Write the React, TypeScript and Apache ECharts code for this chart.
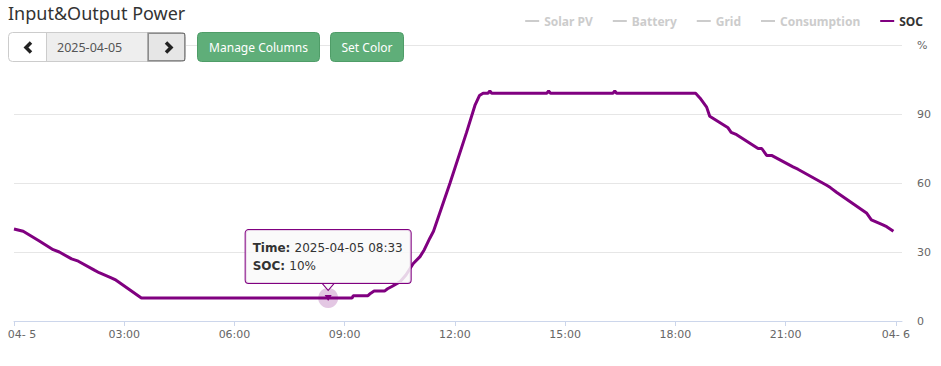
import { useEffect, useRef } from 'react';
import * as echarts from 'echarts';

// ---- data ----
const DATE = '2025-04-05';
const NEXT_DATE = '2025-04-06';
const TITLE = 'Input&Output Power';
const LEGEND_NAMES = ['Solar PV', 'Battery', 'Grid', 'Consumption', 'SOC'];
const LEGEND_COLORS = ['#f7a35c', '#7cb5ec', '#90ed7d', '#434348', '#800080'];
const BUTTON_LABELS = ['Manage Columns', 'Set Color'];
const X_TICK_HOURS = [0, 3, 6, 9, 12, 15, 18, 21, 24];
const Y_TICKS = [0, 30, 60, 90, 120];
const Y_UNIT = '%';
const TOOLTIP_TIME = '08:33';

const TIMES = [
  '00:00', '00:15', '00:40', '01:04', '01:14', '01:34', '01:45', '02:12', '02:19', '02:37',
  '02:45', '03:28', '08:33', '09:12', '09:14', '09:38', '09:42', '09:48', '10:05', '10:10',
  '10:17', '10:30', '10:40', '10:52', '11:03', '11:10', '11:19', '11:25', '11:52', '12:19',
  '12:33', '12:40', '12:46', '12:54', '12:57', '13:00', '14:30', '14:33', '14:36', '16:18',
  '16:21', '16:24', '18:33', '18:40', '18:51', '18:56', '19:26', '19:31', '19:40', '20:15',
  '20:21', '20:29', '20:37', '21:12', '21:20', '22:07', '22:13', '22:23', '23:12', '23:20',
  '23:37', '23:45', '23:56',
];
const SOC = [
  40, 39, 35, 31, 30, 27, 26, 22, 21, 19,
  18, 10, 10, 10, 11, 11, 12, 13, 13, 14,
  15, 17, 20, 25, 28, 31, 36, 39, 60, 82,
  94, 98, 99, 99, 100, 99, 99, 100, 99, 99,
  100, 99, 99, 97, 93, 89, 84, 82, 81, 75,
  75, 72, 72, 67, 66, 59, 58, 56, 47, 44,
  42, 41, 39,
];

const FONT = 'Noto Sans';
const FONT_V = 'DejaVu Sans';
const PURPLE = '#800080';

const toMin = (t: string) => {
  const [h, m] = t.split(':').map(Number);
  return h * 60 + m;
};

const dayLabel = (d: string) => {
  const [, m, day] = d.split('-');
  return `${m}-${String(Number(day)).padStart(2, ' ')}`;
};

export default function App() {
  const ref = useRef<HTMLDivElement>(null);

  useEffect(() => {
    if (!ref.current) return;
    const chart = echarts.init(ref.current, undefined, { renderer: 'svg' });

    const socData = TIMES.map((t, i) => [toMin(t), SOC[i]]);
    const ti = TIMES.indexOf(TOOLTIP_TIME);
    const tipCoord = [toMin(TIMES[ti]), SOC[ti]];
    const tickMins = X_TICK_HOURS.map((h) => h * 60);

    const xFormatter = (v: number) => {
      const h = v / 60;
      if (h % 24 === 0) {
        const s = dayLabel(h === 0 ? DATE : NEXT_DATE);
        return h === 0 ? `{first|${s}}` : s;
      }
      return `${String(h).padStart(2, '0')}:00`;
    };

    const btn = (x: number, w: number, label: string) => [
      {
        type: 'rect',
        z: 100,
        shape: { x: x + 0.5, y: 32.5, width: w, height: 29, r: 4 },
        style: { fill: '#5fae79', stroke: '#4f9d68', lineWidth: 1 },
      },
      {
        type: 'text',
        z: 100,
        style: {
          x: x + 0.5 + w / 2, y: 47, text: label, fill: '#fff',
          font: `12px "${FONT}"`, align: 'center', verticalAlign: 'middle',
        },
      },
    ];

    chart.setOption({
      animation: false,
      backgroundColor: '#fff',
      title: {
        text: TITLE,
        left: 8,
        top: 4,
        padding: 0,
        textStyle: { fontFamily: FONT, fontSize: 18, fontWeight: 'normal', color: '#333' },
      },
      legend: {
        data: LEGEND_NAMES,
        right: 18,
        top: 15,
        padding: 0,
        icon: 'rect',
        itemWidth: 14,
        itemHeight: 2,
        itemGap: 20,
        inactiveColor: '#ccc',
        selected: Object.fromEntries(LEGEND_NAMES.map((n) => [n, n === 'SOC'])),
        textStyle: { fontFamily: FONT, fontSize: 12, fontWeight: 'bold', color: '#333' },
      },
      grid: { left: 14, right: 39, top: 45, bottom: 45 },
      xAxis: {
        type: 'value',
        min: 0,
        max: 1450,
        axisLine: { show: true, lineStyle: { color: '#ccd6eb', width: 1 } },
        axisTick: { show: true, length: 5, lineStyle: { color: '#ccd6eb' }, customValues: tickMins },
        splitLine: { show: false },
        axisLabel: {
          customValues: tickMins,
          formatter: xFormatter,
          color: '#666',
          fontFamily: FONT_V,
          fontSize: 11,
          margin: 8,
          rich: {
            first: { fontFamily: FONT_V, fontSize: 11, color: '#666', padding: [0, 0, 0, 16] },
          },
        },
      },
      yAxis: {
        type: 'value',
        position: 'right',
        min: Y_TICKS[0],
        max: Y_TICKS[Y_TICKS.length - 1],
        interval: Y_TICKS[1] - Y_TICKS[0],
        axisLine: { show: false },
        axisTick: { show: false },
        splitLine: { lineStyle: { color: '#e6e6e6', width: 1 } },
        axisLabel: {
          margin: 15,
          color: '#666',
          fontFamily: FONT_V,
          fontSize: 11,
          formatter: (v: number) => (v === Y_TICKS[Y_TICKS.length - 1] ? Y_UNIT : String(v)),
        },
      },
      series: [
        ...LEGEND_NAMES.slice(0, 4).map((n, i) => ({
          name: n,
          type: 'line',
          data: [],
          symbol: 'none',
          color: LEGEND_COLORS[i],
        })),
        {
          name: 'SOC',
          type: 'line',
          data: socData,
          symbol: 'none',
          color: PURPLE,
          lineStyle: { color: PURPLE, width: 3 },
          markPoint: {
            silent: true,
            data: [
              {
                coord: tipCoord,
                symbol: 'circle',
                symbolSize: 20,
                itemStyle: { color: 'rgba(128,0,128,0.22)' },
                label: { show: false },
              },
              {
                coord: tipCoord,
                symbol: 'path://M0,0L10,0L5,8Z',
                symbolSize: [7, 6],
                itemStyle: { color: PURPLE },
                label: { show: false },
              },
              {
                coord: tipCoord,
                symbol: 'path://M0,0L12,0L6,7Z',
                symbolSize: [12, 7],
                symbolOffset: [0, -11],
                itemStyle: { color: '#f9f9f9', borderColor: PURPLE, borderWidth: 1 },
                label: {
                  show: true,
                  position: 'top',
                  distance: 0,
                  formatter: `{b|Time: }{t|${DATE} ${TIMES[ti]}}\n{b|SOC: }{t|${SOC[ti]}%}`,
                  backgroundColor: 'rgba(249,249,249,0.85)',
                  borderColor: PURPLE,
                  borderWidth: 1,
                  borderRadius: 3,
                  padding: [9, 8, 8, 7],
                  rich: {
                    b: { fontFamily: FONT_V, fontSize: 12, fontWeight: 'bold', color: '#333', lineHeight: 18, align: 'left' },
                    t: { fontFamily: FONT_V, fontSize: 12, color: '#333', lineHeight: 18, align: 'left' },
                  },
                },
              },
            ],
          },
        },
      ],
      graphic: [
        {
          type: 'group',
          z: 100,
          children: [
            {
              type: 'rect',
              z: 100,
              shape: { x: 8.5, y: 32.5, width: 177, height: 29, r: 4 },
              style: { fill: '#fff', stroke: '#ccc', lineWidth: 1 },
            },
            {
              type: 'rect',
              z: 100,
              shape: { x: 46.5, y: 33, width: 101, height: 28 },
              style: { fill: '#eee' },
            },
            {
              type: 'line',
              z: 100,
              shape: { x1: 46.5, y1: 32.5, x2: 46.5, y2: 61.5 },
              style: { stroke: '#ccc', lineWidth: 1 },
            },
            {
              type: 'rect',
              z: 100,
              shape: { x: 147.5, y: 32.5, width: 38, height: 29, r: [0, 4, 4, 0] },
              style: { fill: '#e6e6e6', stroke: '#adadad', lineWidth: 1 },
            },
            {
              type: 'rect',
              z: 100,
              shape: { x: 148.5, y: 33.5, width: 36, height: 27 },
              style: { fill: 'none', stroke: '#333', lineWidth: 1, lineDash: [1, 1] },
            },
            {
              type: 'polyline',
              z: 100,
              shape: { points: [[31, 42.5], [26, 47.5], [31, 52.5]] },
              style: { stroke: '#222', lineWidth: 3.5, fill: null },
            },
            {
              type: 'polyline',
              z: 100,
              shape: { points: [[166, 42.5], [171, 47.5], [166, 52.5]] },
              style: { stroke: '#222', lineWidth: 3.5, fill: null },
            },
            {
              type: 'text',
              z: 100,
              style: {
                x: 57, y: 47, text: DATE, fill: '#555',
                font: `12.5px "${FONT}"`, align: 'left', verticalAlign: 'middle',
              },
            },
            ...btn(197, 122, BUTTON_LABELS[0]),
            ...btn(330, 73, BUTTON_LABELS[1]),
          ],
        },
      ],
    });

    return () => chart.dispose();
  }, []);

  return (
    <div
      ref={ref}
      style={{ position: 'fixed', left: 0, top: 0, width: 941, height: 366, background: '#fff' }}
    />
  );
}
